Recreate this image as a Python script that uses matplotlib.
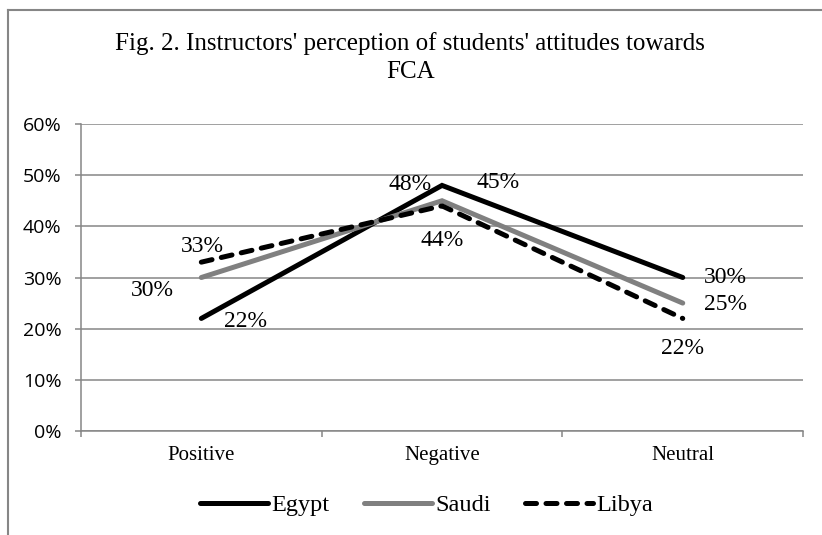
import matplotlib
matplotlib.use('Agg')
import matplotlib.pyplot as plt
from matplotlib.lines import Line2D
from matplotlib.ticker import PercentFormatter

categories = ['Positive', 'Negative', 'Neutral']
egypt = [22, 48, 30]
saudi = [30, 45, 25]
libya = [33, 44, 22]
yticks = [0, 10, 20, 30, 40, 50, 60]

# label offsets (points) per point
egypt_off = [(32, -2), (-23, 1), (31, 0)]
saudi_off = [(-35, -9), (40, 13), (31, -1)]
libya_off = [(1, 11), (0, -25), (0, -22)]

SERIF = ['Liberation Serif', 'DejaVu Serif']
SANS = ['Open Sans', 'Liberation Sans', 'DejaVu Sans']
GRID = '#868686'

fig = plt.figure(figsize=(8.22, 5.35), dpi=100)
ax = fig.add_axes([0.0985, 0.1944, 0.8785, 0.5738])

x = range(len(categories))
ax.plot(x, egypt, color='black', lw=3.6, solid_capstyle='round', solid_joinstyle='miter', label='Egypt', zorder=3)
ax.plot(x, saudi, color='#808080', lw=3.6, solid_capstyle='round', solid_joinstyle='miter', label='Saudi', zorder=3)
ax.plot(x, libya, color='black', lw=3.6, dashes=(2.2, 1.9), dash_capstyle='round', label='Libya', zorder=3)

for vals, offs in ((egypt, egypt_off), (saudi, saudi_off), (libya, libya_off)):
  for i, (v, o) in enumerate(zip(vals, offs)):
    ax.annotate('%d%%' % v, (i, v), xytext=o, textcoords='offset points',
                ha='center', va='center', fontsize=17, family=SERIF)

ax.set_xlim(-0.5, 2.5)
ax.set_ylim(0, 60)
ax.set_yticks(yticks)
ax.yaxis.set_major_formatter(PercentFormatter(decimals=0))
ax.set_xticks(list(x))
ax.set_xticklabels(categories, family=SERIF, fontsize=15)
ax.set_xticks([-0.5, 0.5, 1.5, 2.5], minor=True)
ax.tick_params(axis='x', which='major', length=0, pad=11)
ax.tick_params(axis='x', which='minor', length=4, width=1.1, color=GRID, direction='out')
ax.tick_params(axis='y', length=4, width=1.1, color=GRID, pad=10, labelsize=14)
for t in ax.get_yticklabels():
  t.set_family(SANS)
ax.grid(axis='y', color=GRID, lw=1.1)
ax.set_axisbelow(True)
for s in ('top', 'right'):
  ax.spines[s].set_visible(False)
for s in ('left', 'bottom'):
  ax.spines[s].set_color(GRID)
  ax.spines[s].set_linewidth(1.1)

fig.text(0.499, 0.893, "Fig. 2. Instructors' perception of students' attitudes towards\nFCA",
         ha='center', va='center', fontsize=18, family=SERIF, linespacing=1.35)

fig.legend(loc='center', bbox_to_anchor=(0.519, 0.056), ncol=3, frameon=False,
           prop={'family': SERIF, 'size': 17.5}, handlelength=2.8, handletextpad=0.15,
           columnspacing=1.4)

# outer chart border (only top and left visible in the crop)
fig.add_artist(Line2D([0.0097, 0.0097], [0, 0.981], color=GRID, lw=1.5))
fig.add_artist(Line2D([0.0097, 1], [0.981, 0.981], color=GRID, lw=1.5))

fig.savefig('out.png', dpi=100)
